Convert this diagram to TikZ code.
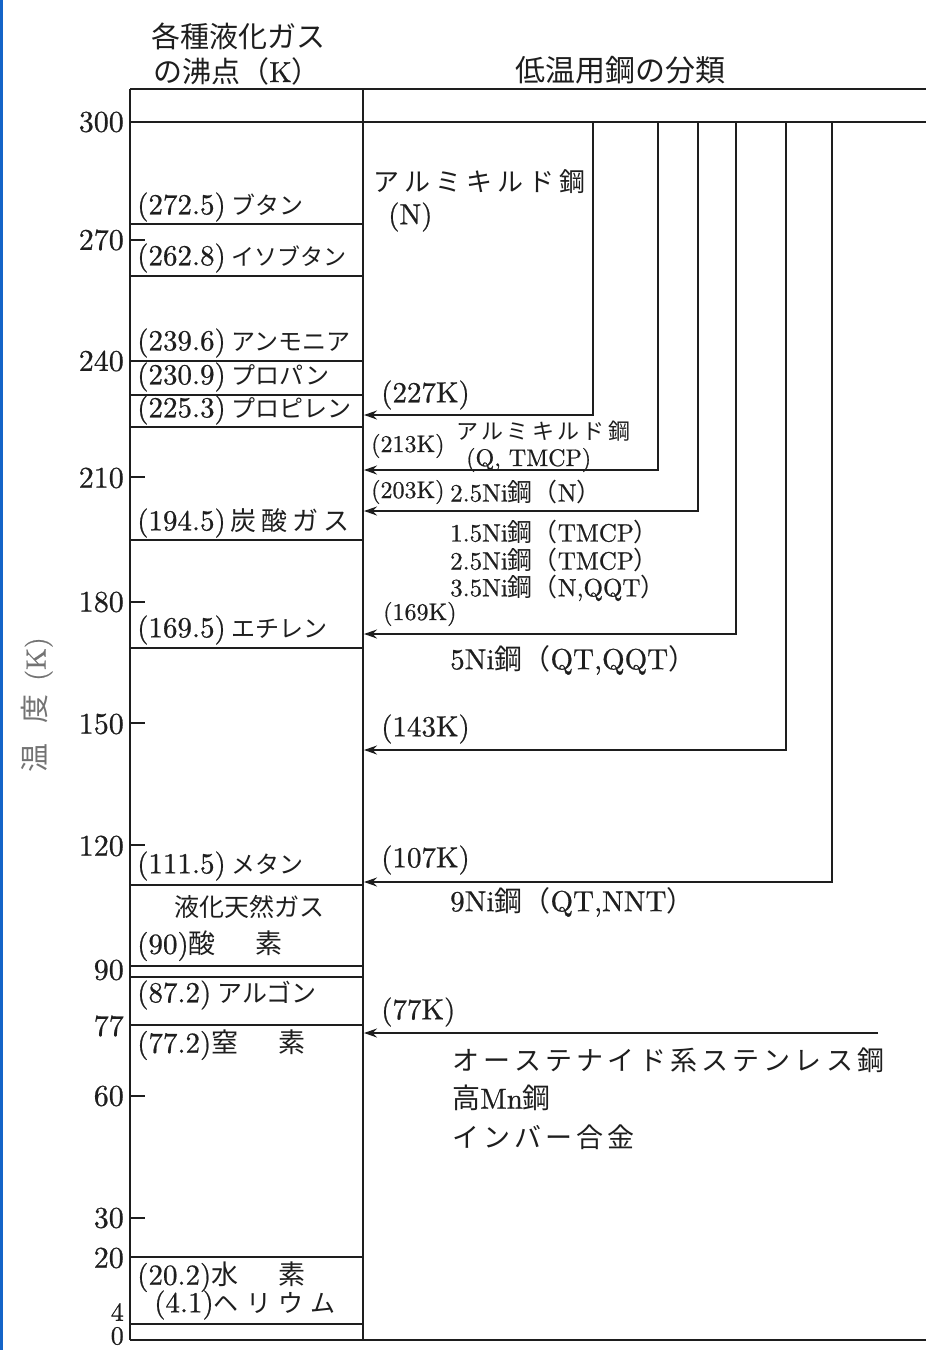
\documentclass[tikz,border=0pt]{standalone}
\usepackage{fontspec}
\setmainfont{lmroman10-regular.otf}[FakeBold=0.7]
\newfontfamily\jp{Noto Sans CJK JP}
\usetikzlibrary{arrows.meta}
\newcommand\fs[1]{\fontsize{#1}{#1}\selectfont}
\newcommand\jx[2]{{\fs{#1}\jp #2}}
\newcommand\sprd[2]{\makebox[#1][s]{#2}}
\definecolor{ink}{HTML}{1E1E1E}
\definecolor{edgeblue}{HTML}{1464C8}
\begin{document}
\begin{tikzpicture}[x=1pt,y=-1pt,
  ln/.style={line width=1.6pt, draw=ink},
  arr/.style={ln, -{Stealth[length=13pt,width=9pt]}},
  lbl/.style={anchor=west, inner sep=0pt, text=ink},
  txt/.style={inner sep=0pt, text=ink},
  num/.style={anchor=east, inner sep=0pt, text=ink, font=\fs{30}}]
\useasboundingbox (0,0) rectangle (926,1350);
\fill[white] (0,0) rectangle (926,1350);
\fill[edgeblue] (0,0) rectangle (3,1350);

% frame
\draw[ln] (130,89) -- (926,89);
\draw[ln] (130,122) -- (926,122);
\draw[ln] (130,89) -- (130,1340);
\draw[ln] (363,89) -- (363,1340);
\draw[ln] (130,1340) -- (926,1340);

% gas separators
\foreach \yy in {224,276,361,395,427,540,648,885,966,977,1025,1257,1324}
  \draw[ln] (130,\yy) -- (363,\yy);
% ticks
\foreach \yy in {240,477,602,723,845,1096,1218}
  \draw[ln] (130,\yy) -- (145,\yy);

% axis numbers
\node[num] (n300) at (124,122) {300};
\node[num] (n270) at (124,240) {270};
\node[num] (n240) at (124,361) {240};
\node[num] (n210) at (124,478) {210};
\node[num] (n180) at (124,602) {180};
\node[num] (n150) at (124,724) {150};
\node[num] (n120) at (124,846) {120};
\node[num] (n90) at (124,970) {90};
\node[num] (n77) at (124,1026) {77};
\node[num] (n60) at (124,1096) {60};
\node[num] (n30) at (124,1218) {30};
\node[num] (n20) at (124,1258) {20};
\node[num, font=\fs{26}] (n4) at (124,1312) {4};
\node[num, font=\fs{26}] (n0) at (124,1336) {0};

% axis title
\node[txt, rotate=90, text=black!55] (yl) at (37,705) {\jx{29}{温}\hspace{20pt}\jx{29}{度}\hspace{14pt}\fs{28}(K)};

% headers
\node[lbl] (h1) at (151,36) {\jx{29}{各種液化ガス}};
\node[lbl] (h2) at (153,71) {\jx{29}{の沸点（}\fs{29}K\jx{29}{）}};
\node[txt] (h3) at (620,70) {\jx{30}{低温用鋼の分類}};

% gases
\node[lbl] (g1) at (137,207) {\fs{29}(272.5)\hspace{6pt}\jx{24}{ブタン}};
\node[lbl] (g2) at (137,258) {\fs{29}(262.8)\hspace{6pt}\jx{23}{イソブタン}};
\node[lbl] (g3) at (137,343) {\fs{29}(239.6)\hspace{6pt}\jx{24}{アンモニア}};
\node[lbl] (g4) at (137,377) {\fs{29}(230.9)\hspace{6pt}\jx{24}{プロパン}};
\node[lbl] (g5) at (137,410) {\fs{29}(225.3)\hspace{6pt}\jx{24}{プロピレン}};
\node[lbl] (g6) at (137,523) {\fs{29}(194.5)\hspace{5pt}\sprd{119pt}{\jx{26}{炭\hfil 酸\hfil ガ\hfil ス}}};
\node[lbl] (g7) at (137,630) {\fs{29}(169.5)\hspace{6pt}\jx{24}{エチレン}};
\node[lbl] (g8) at (137,866) {\fs{29}(111.5)\hspace{6pt}\jx{24}{メタン}};
\node[txt] (g9) at (249,907) {\jx{25}{液化天然ガス}};
\node[lbl] (g10) at (137,946) {\fs{29}(90)\jx{27}{酸}\hspace{40pt}\jx{27}{素}};
\node[lbl] (g11) at (137,995) {\fs{29}(87.2)\hspace{6pt}\jx{25}{アルゴン}};
\node[lbl] (g12) at (137,1045) {\fs{29}(77.2)\jx{27}{窒}\hspace{40pt}\jx{27}{素}};
\node[lbl] (g13) at (137,1277) {\fs{29}(20.2)\jx{27}{水}\hspace{40pt}\jx{27}{素}};
\node[lbl] (g14) at (154,1305) {\fs{29}(4.1)\sprd{122pt}{\jx{25}{ヘ\hfil リ\hfil ウ\hfil ム}}};

% steel classes
\node[lbl] (s1) at (373,182) {\sprd{212pt}{\jx{26}{ア\hfil ル\hfil ミ\hfil キ\hfil ル\hfil ド\hfil 鋼}}};
\node[lbl] (s1b) at (388,217) {\fs{29}(N)};
\node[lbl] (s2) at (456,431) {\sprd{174pt}{\jx{22}{ア\hfil ル\hfil ミ\hfil キ\hfil ル\hfil ド\hfil 鋼}}};
\node[lbl] (s2b) at (466,460) {\fs{24}(Q, TMCP)};
\node[lbl] (s3) at (450,492) {\fs{25}2.5Ni\jx{25}{鋼（}N\jx{25}{）}};
\node[lbl] (s4) at (450,532) {\fs{25}1.5Ni\jx{25}{鋼（}TMCP\jx{25}{）}};
\node[lbl] (s5) at (450,560) {\fs{25}2.5Ni\jx{25}{鋼（}TMCP\jx{25}{）}};
\node[lbl] (s6) at (450,588) {\fs{25}3.5Ni\jx{25}{鋼（}N,QQT\jx{25}{）}};
\node[lbl] (s7) at (450,660) {\fs{29}5Ni\jx{28}{鋼（}QT,QQT\jx{28}{）}};
\node[lbl] (s8) at (450,902) {\fs{29}9Ni\jx{28}{鋼（}QT,NNT\jx{28}{）}};
\node[lbl] (s9) at (452,1060) {\sprd{432pt}{\jx{27}{オ\hfil ー\hfil ス\hfil テ\hfil ナ\hfil イ\hfil ド\hfil 系\hfil ス\hfil テ\hfil ン\hfil レ\hfil ス\hfil 鋼}}};
\node[lbl] (s10) at (452,1098) {\jx{28}{高}\fs{29}Mn\jx{28}{鋼}};
\node[lbl] (s11) at (452,1137) {\sprd{182pt}{\jx{27}{イ\hfil ン\hfil バ\hfil ー\hfil 合\hfil 金}}};

% temperature labels
\node[lbl] (k227) at (381,395) {\fs{29}(227K)};
\node[lbl] (k213) at (371,446) {\fs{24}(213K)};
\node[lbl] (k203) at (371,492) {\fs{24}(203K)};
\node[lbl] (k169) at (383,614) {\fs{24}(169K)};
\node[lbl] (k143) at (381,729) {\fs{29}(143K)};
\node[lbl] (k107) at (381,860) {\fs{29}(107K)};
\node[lbl] (k77) at (381,1012) {\fs{29}(77K)};

% arrow routes
\coordinate (t1) at (593,122); \coordinate (e1) at (364,415);
\coordinate (t2) at (658,122); \coordinate (e2) at (364,470);
\coordinate (t3) at (698,122); \coordinate (e3) at (364,511);
\coordinate (t4) at (736,122); \coordinate (e4) at (364,634);
\coordinate (t5) at (786,122); \coordinate (e5) at (364,750);
\coordinate (t6) at (832,122); \coordinate (e6) at (364,882);
\coordinate (t7) at (878,1033); \coordinate (e7) at (364,1033);
\draw[arr] (t1) |- (e1);
\draw[arr] (t2) |- (e2);
\draw[arr] (t3) |- (e3);
\draw[arr] (t4) |- (e4);
\draw[arr] (t5) |- (e5);
\draw[arr] (t6) |- (e6);
\draw[arr] (t7) -- (e7);
\end{tikzpicture}
\end{document}
